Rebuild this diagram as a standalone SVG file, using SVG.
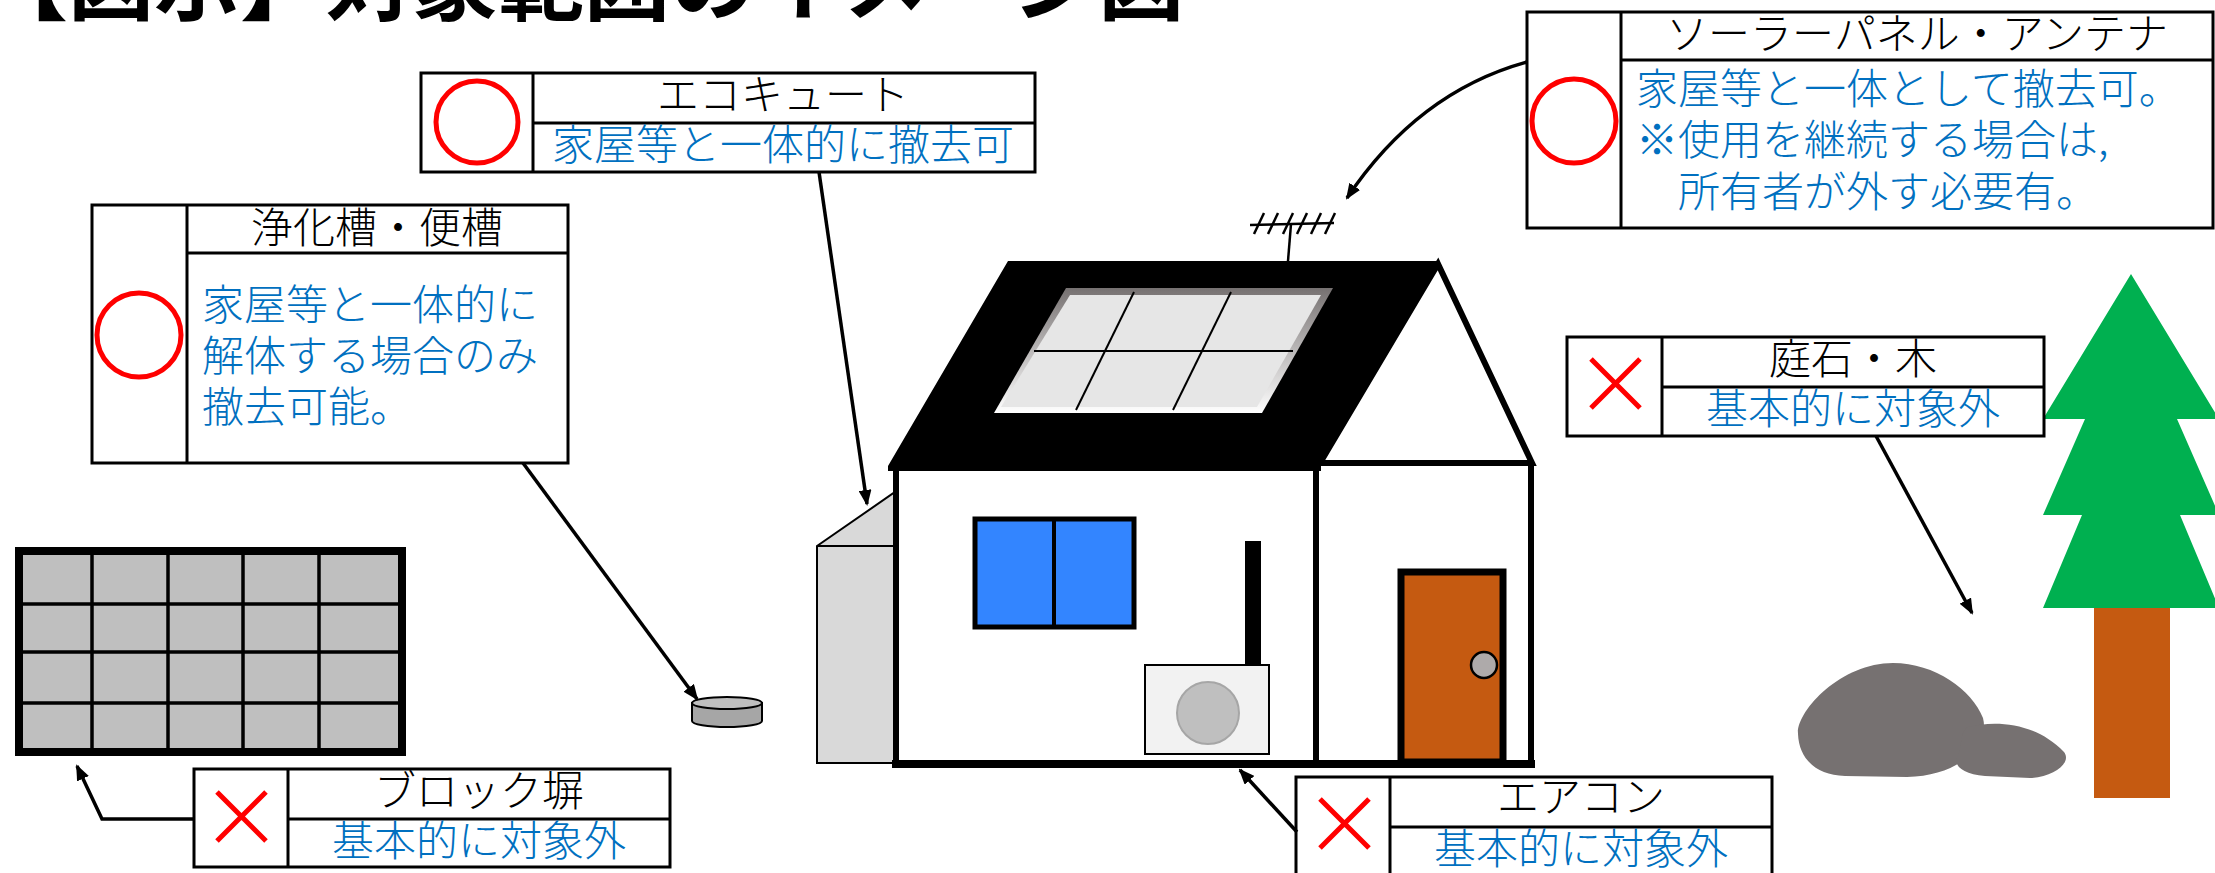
<svg xmlns="http://www.w3.org/2000/svg" width="2215" height="873" viewBox="0 0 2215 873">
  <style>
    .frame { fill: #fff; stroke: #000; stroke-width: 3; }
    .rule { stroke: #000; stroke-width: 3; fill: none; }
    .ok { fill: none; stroke: #FF0000; stroke-width: 5; }
    .ng { stroke: #FF0000; stroke-width: 5; fill: none; }
    .jp { font-family: "Noto Sans CJK JP", "Noto Sans CJK SC", sans-serif; font-size: 42px; font-weight: 300; }
    .head { fill: #000; text-anchor: middle; }
    .note { fill: #0070C0; }
    .mid { text-anchor: middle; }
    .link { fill: none; stroke: #000; stroke-width: 3.5; marker-end: url(#arrow); }
  </style>
  <defs>
    <marker id="arrow" markerUnits="userSpaceOnUse" viewBox="0 0 16 13" markerWidth="16" markerHeight="13" refX="14" refY="6.5" orient="auto">
      <path d="M0,0 L16,6.5 L0,13 Z" fill="#000"/>
    </marker>
    <linearGradient id="panelFrame" x1="0" y1="0" x2="0" y2="1">
      <stop offset="0" stop-color="#767171"/>
      <stop offset="1" stop-color="#FFFFFF"/>
    </linearGradient>
  </defs>

  <rect width="2215" height="873" fill="#fff"/>

  <!-- heading -->
  <g id="title">
    <text x="-18" y="14" font-family="'Noto Sans CJK JP', 'Noto Sans CJK SC', sans-serif" font-size="86" font-weight="700" fill="#000">【図示】対象範囲のイメージ図</text>
  </g>

  <!-- block wall -->
  <g id="block-wall">
    <rect x="19" y="551" width="383" height="201" fill="#BFBFBF" stroke="#000" stroke-width="8"/>
    <g stroke="#000" stroke-width="3.5">
      <line x1="92" y1="551" x2="92" y2="752"/>
      <line x1="168" y1="551" x2="168" y2="752"/>
      <line x1="243" y1="551" x2="243" y2="752"/>
      <line x1="319" y1="551" x2="319" y2="752"/>
      <line x1="19" y1="604" x2="402" y2="604"/>
      <line x1="19" y1="652" x2="402" y2="652"/>
      <line x1="19" y1="703" x2="402" y2="703"/>
    </g>
  </g>

  <!-- septic tank -->
  <g id="septic-tank">
    <path d="M692,703 L692,721 A35,6 0 0 0 762,721 L762,703 Z" fill="#A6A6A6" stroke="#000" stroke-width="2"/>
    <ellipse cx="727" cy="703" rx="35" ry="6" fill="#BFBFBF" stroke="#000" stroke-width="2"/>
  </g>

  <!-- house -->
  <g id="house">
    <!-- water heater unit beside the wall -->
    <polygon points="817,546 895,492 895,763 817,763" fill="#D9D9D9" stroke="#000" stroke-width="2"/>
    <line x1="817" y1="546" x2="895" y2="546" stroke="#000" stroke-width="2"/>
    <!-- walls -->
    <rect x="896" y="468" width="420" height="296" fill="#fff" stroke="#000" stroke-width="6"/>
    <rect x="1316" y="463" width="215" height="301" fill="#fff" stroke="#000" stroke-width="6"/>
    <polygon points="1320,463 1438,264 1532,463" fill="#fff" stroke="#000" stroke-width="6" stroke-linejoin="miter"/>
    <!-- roof -->
    <polygon points="1008,261 1439,261 1321,466 1321,471 888,471 888,466" fill="#000"/>
    <!-- solar panel -->
    <polygon points="1066,288 1333,288 1262,413 994,413" fill="url(#panelFrame)"/>
    <polygon points="1070,295 1321,295 1257,407 1001,407" fill="#E6E6E6"/>
    <g stroke="#000" stroke-width="2">
      <line x1="1034" y1="351" x2="1293" y2="351"/>
      <line x1="1134" y1="292" x2="1076" y2="410"/>
      <line x1="1231" y1="292" x2="1173" y2="410"/>
    </g>
    <!-- antenna -->
    <g stroke="#000" stroke-width="2.5">
      <line x1="1288" y1="261" x2="1291" y2="224"/>
      <line x1="1250" y1="225" x2="1334" y2="223"/>
      <line x1="1264" y1="213" x2="1254" y2="234"/>
      <line x1="1278" y1="213" x2="1268" y2="234"/>
      <line x1="1293" y1="213" x2="1283" y2="234"/>
      <line x1="1307" y1="213" x2="1297" y2="234"/>
      <line x1="1321" y1="213" x2="1311" y2="234"/>
      <line x1="1335" y1="213" x2="1325" y2="234"/>
    </g>
    <!-- window -->
    <rect x="975" y="519" width="159" height="108" fill="#3385FF" stroke="#000" stroke-width="5"/>
    <line x1="1054" y1="519" x2="1054" y2="627" stroke="#000" stroke-width="4"/>
    <!-- air conditioner -->
    <rect x="1245" y="541" width="16" height="125" fill="#000"/>
    <rect x="1145" y="665" width="124" height="89" fill="#F2F2F2" stroke="#000" stroke-width="2"/>
    <ellipse cx="1208" cy="713" rx="31" ry="31" fill="#BFBFBF" stroke="#A6A6A6" stroke-width="2"/>
    <!-- door -->
    <rect x="1401" y="572" width="102" height="190" fill="#C55A11" stroke="#000" stroke-width="7"/>
    <ellipse cx="1484" cy="665" rx="13" ry="13" fill="#AEAAAA" stroke="#000" stroke-width="2.5"/>
    <!-- ground line -->
    <line x1="892" y1="764" x2="1535" y2="764" stroke="#000" stroke-width="8"/>
  </g>

  <!-- garden stones -->
  <g id="stones" fill="#767171">
    <path d="M1798,734 C1796,712 1840,663 1893,663 C1935,663 1972,690 1983,718 C1990,745 1960,776 1907,777 L1845,776 C1815,775 1799,758 1798,734 Z"/>
    <path d="M1968,727 C1995,720 2035,722 2064,752 C2072,762 2055,777 2030,778 L1985,776 C1962,774 1952,765 1958,755 C1962,745 1960,732 1968,727 Z"/>
  </g>

  <!-- tree -->
  <g id="tree">
    <rect x="2094" y="606" width="76" height="192" fill="#C55A11"/>
    <polygon points="2131,274 2043,419 2085,419 2043,515 2082,515 2043,608 2219,608 2180,515 2219,515 2177,419 2219,419" fill="#00B050"/>
  </g>

  <!-- label: water heater -->
  <g id="label-ecocute" class="jp">
    <rect class="frame" x="421" y="73" width="614" height="99"/>
    <line class="rule" x1="533" y1="73" x2="533" y2="172"/>
    <line class="rule" x1="533" y1="123" x2="1035" y2="123"/>
    <circle class="ok" cx="477" cy="122" r="41"/>
    <text class="head" x="783" y="110">エコキュート</text>
    <text class="note mid" x="783" y="160">家屋等と一体的に撤去可</text>
  </g>

  <!-- label: septic tank -->
  <g id="label-septic" class="jp">
    <rect class="frame" x="92" y="205" width="476" height="258"/>
    <line class="rule" x1="187" y1="205" x2="187" y2="463"/>
    <line class="rule" x1="187" y1="253" x2="568" y2="253"/>
    <circle class="ok" cx="139" cy="335" r="42"/>
    <text class="head" x="377" y="243">浄化槽・便槽</text>
    <text class="note" x="202" y="320">家屋等と一体的に</text>
    <text class="note" x="202" y="371">解体する場合のみ</text>
    <text class="note" x="202" y="422">撤去可能。</text>
  </g>

  <!-- label: solar panel and antenna -->
  <g id="label-solar" class="jp">
    <rect class="frame" x="1527" y="12" width="686" height="216"/>
    <line class="rule" x1="1621" y1="12" x2="1621" y2="228"/>
    <line class="rule" x1="1621" y1="60" x2="2213" y2="60"/>
    <circle class="ok" cx="1574" cy="121" r="42"/>
    <text class="head" x="1917" y="49">ソーラーパネル・アンテナ</text>
    <text class="note" x="1636" y="104">家屋等と一体として撤去可。</text>
    <text class="note" x="1636" y="155">※使用を継続する場合は,</text>
    <text class="note" x="1678" y="207">所有者が外す必要有。</text>
  </g>

  <!-- label: garden stones and trees -->
  <g id="label-garden" class="jp">
    <rect class="frame" x="1567" y="337" width="477" height="99"/>
    <line class="rule" x1="1662" y1="337" x2="1662" y2="436"/>
    <line class="rule" x1="1662" y1="387" x2="2044" y2="387"/>
    <path class="ng" d="M1591,359 L1640,408 M1640,359 L1591,408"/>
    <text class="head" x="1853" y="374">庭石・木</text>
    <text class="note mid" x="1853" y="424">基本的に対象外</text>
  </g>

  <!-- label: block wall -->
  <g id="label-blockwall" class="jp">
    <rect class="frame" x="194" y="769" width="476" height="98"/>
    <line class="rule" x1="288" y1="769" x2="288" y2="867"/>
    <line class="rule" x1="288" y1="819" x2="670" y2="819"/>
    <path class="ng" d="M217,792 L266,841 M266,792 L217,841"/>
    <text class="head" x="479" y="806">ブロック塀</text>
    <text class="note mid" x="479" y="856">基本的に対象外</text>
  </g>

  <!-- label: air conditioner -->
  <g id="label-aircon" class="jp">
    <rect class="frame" x="1296" y="777" width="476" height="100"/>
    <line class="rule" x1="1390" y1="777" x2="1390" y2="877"/>
    <line class="rule" x1="1390" y1="827" x2="1772" y2="827"/>
    <path class="ng" d="M1320,799 L1369,848 M1369,799 L1320,848"/>
    <text class="head" x="1581" y="812">エアコン</text>
    <text class="note mid" x="1581" y="864">基本的に対象外</text>
  </g>

  <!-- connectors -->
  <g id="connectors">
    <path class="link" d="M819,172 L867,504"/>
    <path class="link" d="M523,463 L697,699"/>
    <path class="link" d="M1527,62 Q1418,92 1347,198"/>
    <path class="link" d="M1876,436 L1972,613"/>
    <path class="link" d="M194,819 L102,819 L77,766"/>
    <path class="link" d="M1297,832 L1240,770"/>
  </g>
</svg>
